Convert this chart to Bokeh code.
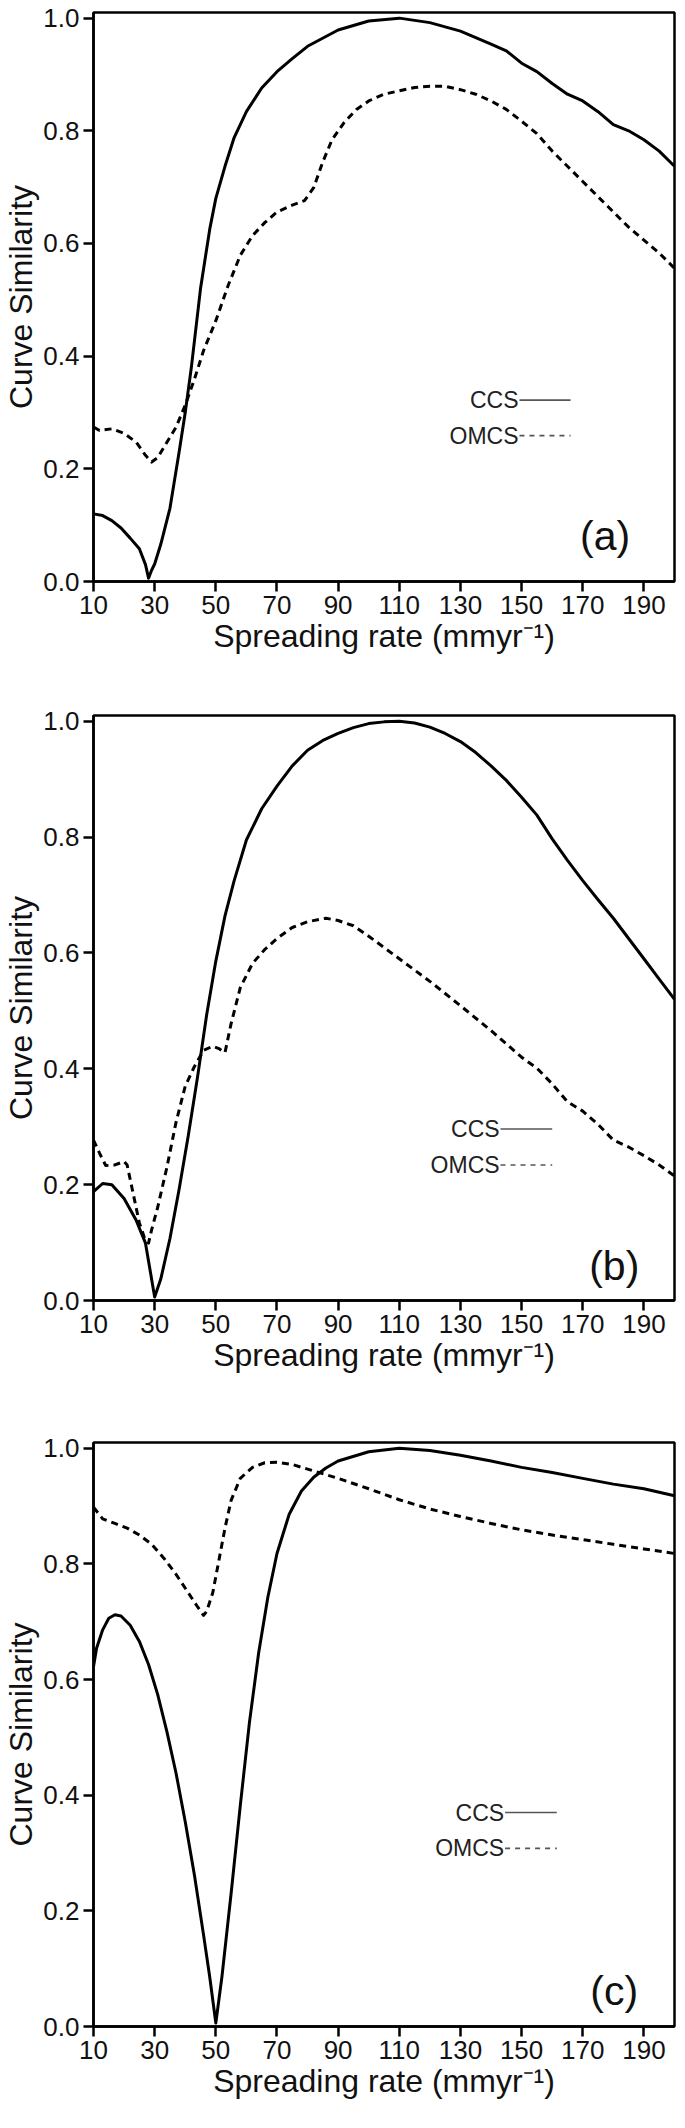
from bokeh.plotting import figure
from bokeh.layouts import column
from bokeh.models import Range1d, FixedTicker, PrintfTickFormatter, Label
from bokeh.embed import file_html
from bokeh.resources import INLINE

FONT = "Liberation Sans"

# ---- data ----
x_ticks = [10, 30, 50, 70, 90, 110, 130, 150, 170, 190]
y_ticks = [0.0, 0.2, 0.4, 0.6, 0.8, 1.0]
series_names = ["CCS", "OMCS"]
x_label = "Spreading rate (mmyr\u207b\u00b9)"
y_label = "Curve Similarity"

# (a)
a_ccs_x = [10, 13, 16, 19, 22, 25, 27, 28, 29, 30, 32, 35, 38, 40, 42, 45, 48, 50, 53, 56,
           60, 65, 70, 75, 80, 90, 100, 110, 120, 130, 140, 145, 150, 155, 160, 165, 170,
           175, 180, 185, 190, 195, 200]
a_ccs_y = [0.12, 0.117, 0.108, 0.095, 0.077, 0.058, 0.03, 0.006, 0.02, 0.031, 0.066, 0.13,
           0.23, 0.30, 0.38, 0.52, 0.625, 0.68, 0.737, 0.788, 0.834, 0.876, 0.905, 0.928,
           0.95, 0.979, 0.995, 1.0, 0.992, 0.977, 0.954, 0.942, 0.92, 0.905, 0.884, 0.865,
           0.853, 0.834, 0.811, 0.80, 0.784, 0.764, 0.737]
a_omcs_x = [10, 12, 16, 20, 24, 27, 29, 31, 34, 37, 40, 43, 46, 50, 54, 58, 62, 66, 70, 75,
            79, 82, 85, 88, 92, 96, 100, 105, 110, 115, 120, 125, 130, 135, 140, 145, 150,
            155, 160, 165, 170, 175, 180, 185, 190, 195, 200]
a_omcs_y = [0.274, 0.268, 0.271, 0.263, 0.247, 0.224, 0.212, 0.22, 0.247, 0.274, 0.313,
            0.359, 0.41, 0.463, 0.525, 0.579, 0.614, 0.637, 0.656, 0.668, 0.676, 0.699,
            0.745, 0.784, 0.815, 0.838, 0.853, 0.865, 0.871, 0.877, 0.879, 0.879, 0.873,
            0.865, 0.853, 0.838, 0.817, 0.795, 0.764, 0.737, 0.71, 0.683, 0.656, 0.629,
            0.606, 0.583, 0.556]

# (b)
b_ccs_x = [10, 13, 16, 20, 24, 27, 30, 32, 35, 38, 41, 44, 47, 50, 53, 56, 60, 65, 70, 75,
           80, 85, 90, 95, 100, 105, 110, 115, 120, 125, 130, 135, 140, 145, 150, 155, 160,
           165, 170, 175, 180, 185, 190, 195, 200]
b_ccs_y = [0.188, 0.202, 0.2, 0.176, 0.138, 0.099, 0.006, 0.037, 0.107, 0.192, 0.285,
           0.385, 0.493, 0.586, 0.664, 0.725, 0.795, 0.849, 0.888, 0.923, 0.95, 0.967,
           0.979, 0.989, 0.996, 0.999, 1.0, 0.997, 0.99, 0.979, 0.965, 0.946, 0.923, 0.898,
           0.869, 0.838, 0.797, 0.76, 0.725, 0.692, 0.66, 0.625, 0.59, 0.555, 0.52]
b_omcs_x = [10, 12, 14, 17, 20, 21, 23, 25, 27, 28, 29, 31, 34, 37, 40, 43, 46, 49, 51, 53,
            55, 58, 62, 66, 70, 75, 80, 86, 90, 95, 100, 110, 120, 130, 140, 150, 155,
            160, 165, 170, 175, 180, 185, 190, 195, 200]
b_omcs_y = [0.277, 0.254, 0.233, 0.234, 0.24, 0.234, 0.184, 0.134, 0.103, 0.099, 0.122,
            0.161, 0.23, 0.308, 0.37, 0.404, 0.432, 0.439, 0.435, 0.428, 0.478, 0.54,
            0.582, 0.606, 0.625, 0.644, 0.654, 0.66, 0.656, 0.647, 0.629, 0.59, 0.551,
            0.509, 0.466, 0.42, 0.401, 0.374, 0.343, 0.327, 0.304, 0.277, 0.265, 0.25,
            0.234, 0.215]

# (c)
c_ccs_x = [10, 11, 13, 15, 17, 19, 22, 25, 28, 31, 34, 37, 40, 43, 46, 48, 50, 52, 55, 58,
           61, 64, 67, 70, 74, 78, 82, 86, 90, 100, 110, 120, 130, 140, 150, 160, 170,
           180, 190, 200]
c_ccs_y = [0.622, 0.654, 0.686, 0.706, 0.712, 0.71, 0.694, 0.666, 0.626, 0.574, 0.51,
           0.438, 0.354, 0.262, 0.158, 0.086, 0.006, 0.086, 0.23, 0.382, 0.526, 0.646,
           0.742, 0.818, 0.886, 0.926, 0.95, 0.966, 0.978, 0.994, 1.0, 0.996, 0.988,
           0.978, 0.967, 0.958, 0.948, 0.938, 0.93, 0.918]
c_omcs_x = [10, 13, 17, 21, 25, 29, 33, 37, 41, 44, 46, 47, 49, 51, 53, 55, 58, 62, 66, 70,
            75, 80, 90, 100, 110, 120, 130, 140, 150, 160, 170, 180, 190, 200]
c_omcs_y = [0.898, 0.878, 0.87, 0.862, 0.85, 0.834, 0.81, 0.782, 0.75, 0.726, 0.711, 0.718,
            0.75, 0.806, 0.862, 0.91, 0.948, 0.967, 0.975, 0.976, 0.972, 0.964, 0.948,
            0.93, 0.911, 0.895, 0.882, 0.87, 0.859, 0.85, 0.842, 0.834, 0.826, 0.818]

# ---- layout settings per panel ----
panels = [
    dict(tag="(a)", ccs=(a_ccs_x, a_ccs_y), omcs=(a_omcs_x, a_omcs_y),
         height=700, top=12, bottom=119, leg=(149.0, 0.322, 0.259, 166.0), tag_at=(177.3, 0.081)),
    dict(tag="(b)", ccs=(b_ccs_x, b_ccs_y), omcs=(b_omcs_x, b_omcs_y),
         height=722, top=15, bottom=122, leg=(142.8, 0.296, 0.234, 160.0), tag_at=(180.3, 0.060)),
    dict(tag="(c)", ccs=(c_ccs_x, c_ccs_y), omcs=(c_omcs_x, c_omcs_y),
         height=690, top=20, bottom=86, leg=(144.3, 0.370, 0.308, 161.5), tag_at=(180.3, 0.062)),
]


def make_panel(cfg):
    p = figure(width=676, height=cfg["height"], output_backend="svg", toolbar_location=None,
               x_range=Range1d(10, 200), y_range=Range1d(0, 1.01),
               min_border_left=90, min_border_right=2,
               min_border_top=cfg["top"], min_border_bottom=cfg["bottom"])
    p.background_fill_color = "white"
    p.border_fill_color = "white"
    p.grid.visible = False
    p.outline_line_color = "black"
    p.outline_line_width = 2.5
    p.outline_line_alpha = 1.0

    for ax in (p.xaxis[0], p.yaxis[0]):
        ax.axis_line_width = 2.5
        ax.major_tick_line_width = 2.5
        ax.major_tick_in = 0
        ax.major_tick_out = 10
        ax.minor_tick_line_color = None
        ax.major_label_text_font = FONT
        ax.major_label_text_font_size = "26px"
        ax.major_label_text_color = "#111111"
        ax.major_label_standoff = 4
        ax.axis_label_text_font = FONT
        ax.axis_label_text_font_size = "32px"
        ax.axis_label_text_font_style = "normal"
        ax.axis_label_text_color = "#111111"
        ax.axis_label_standoff = 1

    p.xaxis.ticker = FixedTicker(ticks=x_ticks)
    p.yaxis.ticker = FixedTicker(ticks=y_ticks)
    p.yaxis.formatter = PrintfTickFormatter(format="%.1f")
    p.xaxis.axis_label = x_label
    p.yaxis.axis_label = y_label

    cx, cy = cfg["ccs"]
    ox, oy = cfg["omcs"]
    p.line(cx, cy, line_color="black", line_width=3, line_join="round")
    p.line(ox, oy, line_color="black", line_width=3, line_dash="7 5", line_join="round")

    # hand-drawn style legend: label to the left of the line sample
    lx, ly1, ly2, lend = cfg["leg"]
    for name, ly, dash in ((series_names[0], ly1, "solid"), (series_names[1], ly2, "5 5")):
        p.add_layout(Label(x=lx, y=ly, text=name, text_align="right", text_baseline="middle",
                           text_font=FONT, text_font_size="23px", text_color="#222222"))
        p.segment(x0=[lx + 0.3], y0=[ly], x1=[lend], y1=[ly], line_color="#555555",
                  line_width=1.6, line_dash=dash)

    tx, ty = cfg["tag_at"]
    p.add_layout(Label(x=tx, y=ty, text=cfg["tag"], text_align="center", text_baseline="middle",
                       text_font=FONT, text_font_size="41px", text_color="#111111"))
    return p


layout = column(*[make_panel(c) for c in panels])

open("out.html", "w").write(file_html(layout, INLINE))
